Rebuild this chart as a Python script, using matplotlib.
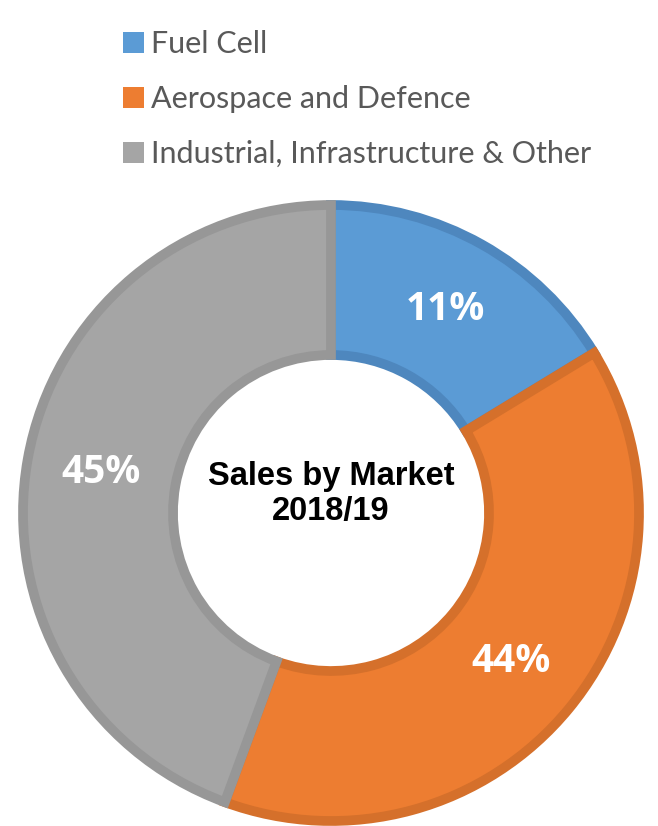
import matplotlib
matplotlib.use("Agg")
from matplotlib import pyplot as plt
from matplotlib.patches import Patch

# data
markets = ['Fuel Cell', 'Aerospace and Defence', 'Industrial, Infrastructure & Other']
shares = [16.3, 39.3, 44.4]          # wedge sizes as drawn
share_labels = ['11%', '44%', '45%']  # labels as printed on the chart
fills = ['#5B9BD5', '#ED7D31', '#A5A5A5']
edges = ['#4E87BE', '#D5702B', '#979797']

fig = plt.figure(figsize=(6.58, 8.26), dpi=100)
ax = fig.add_axes([0, 0, 1, 1])

lab_iter = iter(share_labels)
wedges, texts, autotexts = ax.pie(
    shares, center=(331, 313), radius=308, startangle=90, counterclock=False,
    colors=fills, autopct=lambda p: next(lab_iter), pctdistance=0.757,
    wedgeprops=dict(width=150, linewidth=7), frame=True)
ax.set_xlim(0, 658)
ax.set_ylim(0, 826)
ax.set_aspect('equal')
ax.axis('off')

# darker border kept inside each wedge
for w, ec in zip(wedges, edges):
    w.set_edgecolor(ec)
    w.set_clip_path(w)

for t in autotexts:
    t.set_color('white')
    t.set_fontsize(28)
    t.set_fontweight('bold')
    t.set_family('Open Sans')

ax.text(331, 313 + 19, 'Sales by Market\n2018/19', ha='center', va='center',
        fontsize=23.5, fontweight='bold', family='Liberation Sans', linespacing=1.2)

handles = [Patch(facecolor=c, edgecolor='none') for c in fills]
leg = ax.legend(handles, markets, loc='upper left', bbox_to_anchor=(123 / 658, 1 - 30 / 826),
                frameon=False, borderpad=0, borderaxespad=0, handlelength=0.68,
                handleheight=0.68, handletextpad=0.25, labelspacing=0.88,
                prop={'family': 'Lato', 'size': 22})
for t in leg.get_texts():
    t.set_color('#595959')

plt.savefig('out.png', dpi=100)
